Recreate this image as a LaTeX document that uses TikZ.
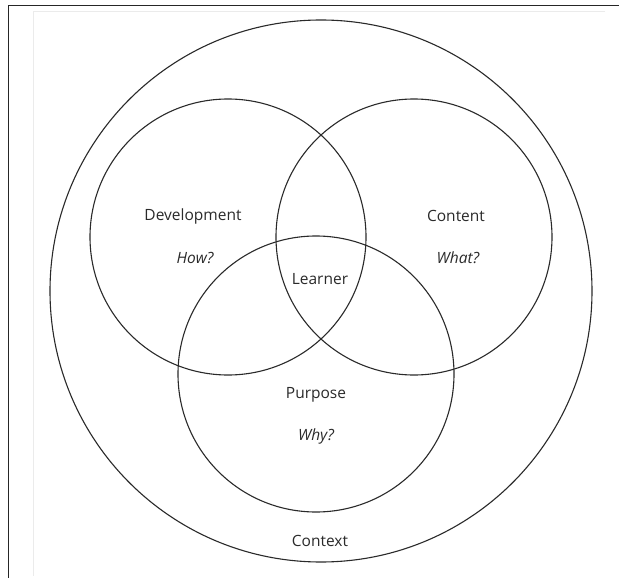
\documentclass[tikz,border=0pt]{standalone}
\usepackage{fontspec}
\setmainfont{Open Sans}
\definecolor{ink}{HTML}{2A2A2A}
\begin{document}
\begin{tikzpicture}[x=1pt,y=-1pt,
  ring/.style={draw=ink,line width=1.1pt},
  lbl/.style={text=ink,font=\fontsize{15.5}{18}\selectfont,inner sep=0pt},
  q/.style={lbl,font=\fontsize{15.5}{18}\selectfont\itshape}]
\useasboundingbox (0,0) rectangle (619,578);
\fill[white] (0,0) rectangle (619,578);
% frame
\draw[line width=1.6pt,black!85] (619,5.5) -- (8.5,5.5) -- (8.5,578);
\draw[line width=0.6pt,black!8] (605,11) -- (33,11) -- (33,576);
% circles
\draw[ring] (321,291) circle (271);
\draw[ring] (228,237) circle (138);
\draw[ring] (414,237) circle (138);
\draw[ring] (316,374) circle (138);
% labels
\node[lbl] (dev) at (193,216) {Development};
\node[q] (how) at (195,258) {How?};
\node[lbl] (con) at (456,216) {Content};
\node[q] (what) at (458,258) {What?};
\node[lbl] (lea) at (320,279) {Learner};
\node[lbl] (pur) at (316,395) {Purpose};
\node[q] (why) at (316,436) {Why?};
\node[lbl] (ctx) at (320,541) {Context};
\end{tikzpicture}
\end{document}
